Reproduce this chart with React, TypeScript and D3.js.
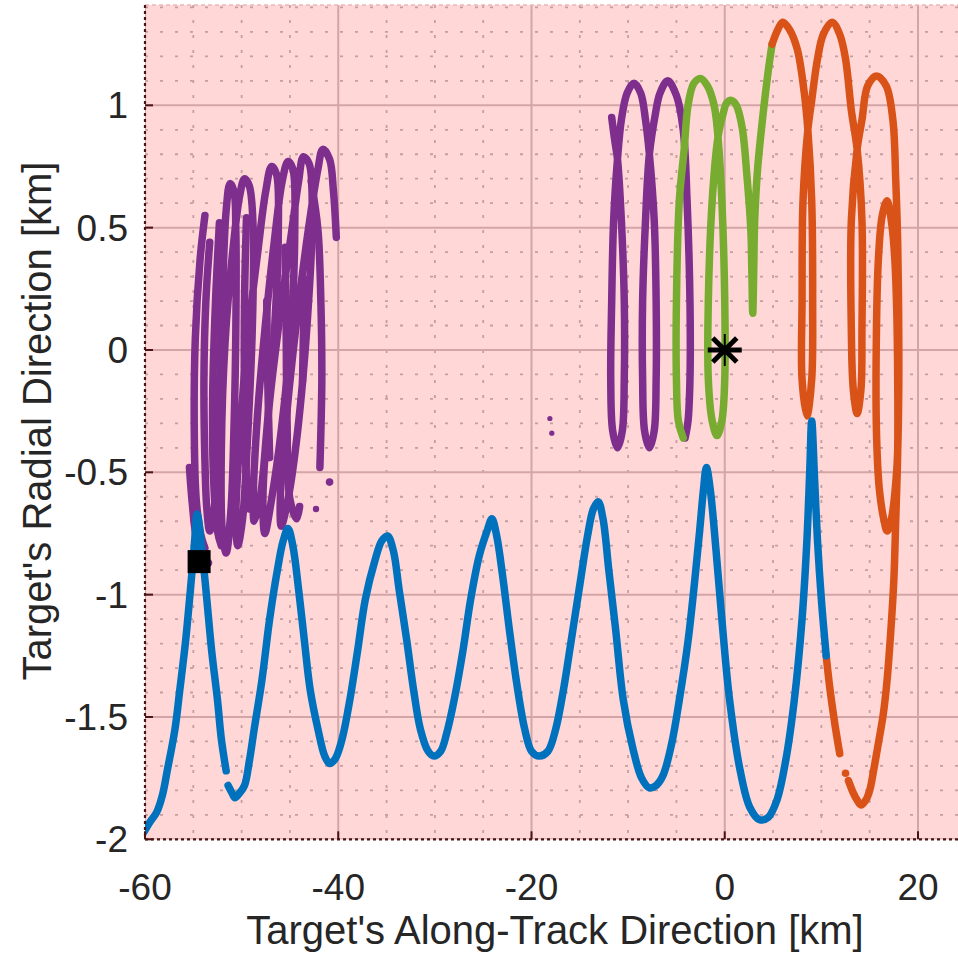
import React from 'react';
import * as d3 from 'd3';

type P = [number, number];

// ---- axes / ticks ----
const X_TICKS = [-60, -40, -20, 0, 20];
const X_TICK_LABELS = ['-60', '-40', '-20', '0', '20'];
const Y_TICKS = [-2, -1.5, -1, -0.5, 0, 0.5, 1];
const Y_TICK_LABELS = ['-2', '-1.5', '-1', '-0.5', '0', '0.5', '1'];
const X_LABEL = "Target's Along-Track Direction [km]";
const Y_LABEL = "Target's Radial Direction [km]";

// ---- blue trajectory (two pieces) ----
const blueA: P[] = [
  [-60.1, -1.97], [-59.5, -1.93], [-58.8, -1.89], [-58.2, -1.82], [-57.7, -1.72], [-56.9, -1.55],
  [-56.4, -1.39], [-55.8, -1.19], [-55.3, -0.98], [-54.9, -0.8], [-54.6, -0.67], [-54.0, -0.86],
  [-53.6, -1.02], [-53.1, -1.23], [-52.5, -1.43], [-52.1, -1.59], [-51.6, -1.72],
];
const blueB: P[] = [
  [-51.4, -1.78], [-51.0, -1.81], [-50.7, -1.83], [-50.2, -1.81], [-49.7, -1.78], [-49.2, -1.68],
  [-48.7, -1.55], [-47.9, -1.35], [-47.1, -1.1], [-46.3, -0.9], [-45.7, -0.78], [-45.2, -0.73],
  [-44.7, -0.8], [-44.1, -0.98], [-43.5, -1.19], [-42.9, -1.39], [-42.1, -1.55], [-41.4, -1.66],
  [-40.9, -1.69], [-40.3, -1.67], [-39.6, -1.59], [-38.8, -1.43], [-38.0, -1.23], [-37.2, -1.02],
  [-36.2, -0.86], [-35.5, -0.78], [-34.9, -0.76], [-34.3, -0.82], [-33.7, -0.98], [-32.9, -1.19],
  [-32.2, -1.39], [-31.5, -1.55], [-30.7, -1.64], [-30.1, -1.66], [-29.4, -1.64], [-28.8, -1.57],
  [-28.0, -1.43], [-27.1, -1.23], [-26.3, -1.02], [-25.4, -0.84], [-24.6, -0.74], [-24.1, -0.69],
  [-23.6, -0.76], [-23.0, -0.92], [-22.3, -1.14], [-21.5, -1.37], [-20.7, -1.55], [-20.0, -1.64],
  [-19.2, -1.66], [-18.3, -1.64], [-17.5, -1.55], [-16.7, -1.39], [-15.9, -1.19], [-15.0, -0.96],
  [-14.2, -0.76], [-13.6, -0.65], [-13.1, -0.62], [-12.6, -0.69], [-12.0, -0.9], [-11.3, -1.14],
  [-10.5, -1.43], [-9.5, -1.63], [-8.6, -1.75], [-7.8, -1.79], [-7.1, -1.78], [-6.4, -1.74],
  [-5.5, -1.61], [-4.7, -1.43], [-3.8, -1.19], [-3.1, -0.94], [-2.6, -0.74], [-2.2, -0.57],
  [-1.9, -0.48], [-1.5, -0.57], [-0.9, -0.82], [-0.3, -1.1], [0.5, -1.43], [1.6, -1.72],
  [2.6, -1.87], [3.6, -1.92], [4.5, -1.91], [5.4, -1.84], [6.3, -1.68], [7.2, -1.43],
  [8.0, -1.1], [8.5, -0.78], [8.8, -0.49], [9.0, -0.29], [9.3, -0.53], [9.6, -0.78],
  [10.0, -1.02], [10.5, -1.25],
];

// ---- orange trajectory ----
const orangeA: P[] = [[10.5, -1.25], [10.9, -1.39], [11.4, -1.53], [11.9, -1.65]];
const orangeDots: P[] = [[12.5, -1.73]];
const orangeB: P[] = [
  [12.8, -1.76], [13.3, -1.81], [13.7, -1.84], [14.1, -1.86], [14.6, -1.84], [15.0, -1.8],
  [15.4, -1.72], [15.8, -1.63], [16.4, -1.49], [16.8, -1.35], [17.2, -1.14], [17.5, -0.94],
  [17.7, -0.69], [17.9, -0.41], [17.9, -0.12], [17.8, 0.16], [17.6, 0.37], [17.3, 0.51],
  [16.8, 0.61], [16.3, 0.55], [15.9, 0.37], [15.7, 0.08], [15.7, -0.33], [16.0, -0.57],
  [16.5, -0.7], [16.8, -0.74], [17.2, -0.7], [17.8, -0.49], [18.0, -0.2], [18.0, 0.12],
  [17.9, 0.44], [17.7, 0.69], [17.4, 0.94], [16.7, 1.08], [15.7, 1.12], [14.8, 1.08],
  [14.2, 0.94], [13.7, 0.82], [13.1, 0.53], [13.1, 0.08], [13.3, -0.16], [13.7, -0.26],
  [14.1, -0.16], [14.2, 0.08], [14.2, 0.53], [13.7, 0.82], [13.1, 0.98], [12.5, 1.19],
  [11.9, 1.29], [11.1, 1.34], [10.2, 1.29], [9.6, 1.19], [9.0, 1.02], [8.6, 0.9],
  [8.1, 0.61], [8.0, 0.2], [8.0, -0.12], [8.5, -0.27], [9.0, -0.12], [9.1, 0.2],
  [9.0, 0.61], [8.6, 0.9], [8.2, 1.06], [7.5, 1.23], [6.7, 1.31], [6.0, 1.34],
  [5.5, 1.31], [4.9, 1.25],
];

// ---- green trajectory ----
const green: P[] = [
  [4.9, 1.25], [4.5, 1.14], [3.9, 0.94], [3.4, 0.74], [3.1, 0.53], [3.0, 0.33], [2.9, 0.15],
  [2.8, 0.33], [2.7, 0.49], [2.3, 0.71], [1.8, 0.91], [1.2, 1.0], [0.7, 1.02], [0.2, 1.01],
  [-0.2, 0.96], [-0.7, 0.87], [-1.3, 0.61], [-1.7, 0.2], [-1.7, -0.12], [-1.3, -0.29],
  [-0.8, -0.35], [-0.3, -0.29], [0.0, -0.12], [0.0, 0.2], [-0.3, 0.61], [-0.7, 0.87],
  [-1.1, 1.0], [-1.8, 1.08], [-2.5, 1.11], [-3.2, 1.09], [-3.8, 1.0], [-4.2, 0.82],
  [-4.7, 0.61], [-5.0, 0.2], [-5.0, -0.12], [-4.8, -0.29], [-4.3, -0.36],
];

// ---- purple trajectory: right group ----
const purpleRight: P[] = [
  [-11.7, 0.95], [-11.4, 0.86], [-11.1, 0.78], [-10.7, 0.53], [-10.4, 0.2], [-10.4, -0.12],
  [-10.6, -0.33], [-11.1, -0.4], [-11.6, -0.33], [-11.8, -0.12], [-11.7, 0.2], [-11.5, 0.53],
  [-11.1, 0.78], [-10.7, 0.94], [-10.1, 1.05], [-9.4, 1.09], [-8.7, 1.05], [-8.2, 0.94],
  [-7.8, 0.8], [-7.3, 0.53], [-7.1, 0.2], [-7.1, -0.12], [-7.3, -0.33], [-7.8, -0.4],
  [-8.3, -0.33], [-8.5, -0.12], [-8.5, 0.2], [-8.2, 0.53], [-7.8, 0.8], [-7.2, 0.96],
  [-6.7, 1.05], [-5.9, 1.1], [-5.0, 1.04], [-4.3, 0.9], [-3.9, 0.61], [-3.6, 0.2],
  [-3.6, -0.12], [-3.8, -0.29], [-4.1, -0.36],
];

// ---- purple trajectory: left tangle ----
const purpleLeftMain: P[] = [
  [-53.3, 0.44], [-53.7, 0.2], [-53.9, -0.12], [-53.8, -0.45], [-53.6, -0.65], [-53.3, -0.74],
  [-52.9, -0.67], [-52.5, -0.41], [-52.2, -0.04], [-51.9, 0.33], [-51.6, 0.57], [-51.2, 0.68],
  [-50.8, 0.65], [-50.6, 0.49], [-50.6, 0.08], [-50.8, -0.33], [-51.1, -0.65], [-51.6, -0.83],
  [-52.0, -0.74], [-52.1, -0.41], [-51.7, 0.04], [-50.9, 0.41], [-50.2, 0.63], [-49.7, 0.7],
  [-49.2, 0.67], [-48.8, 0.49], [-48.9, 0.08], [-49.4, -0.37], [-49.9, -0.69], [-50.4, -0.8],
  [-50.6, -0.69], [-50.2, -0.37], [-49.4, 0.04], [-48.3, 0.41], [-47.5, 0.65], [-46.9, 0.75],
  [-46.4, 0.72], [-46.2, 0.49], [-46.6, 0.08], [-47.4, -0.33], [-48.1, -0.61], [-48.7, -0.7],
  [-48.8, -0.61], [-48.4, -0.29], [-47.6, 0.08], [-46.6, 0.45], [-45.8, 0.69], [-45.2, 0.77],
  [-44.7, 0.74], [-44.5, 0.49], [-44.9, 0.08], [-45.9, -0.33], [-46.9, -0.61], [-47.6, -0.75],
  [-47.8, -0.63], [-47.3, -0.29], [-46.1, 0.12], [-44.8, 0.49], [-44.1, 0.69], [-43.6, 0.79],
  [-43.0, 0.76], [-42.7, 0.53], [-43.2, 0.12], [-44.2, -0.33], [-45.2, -0.61], [-45.9, -0.72],
  [-46.0, -0.61], [-45.3, -0.25], [-44.3, 0.12], [-43.1, 0.49], [-42.1, 0.74], [-41.6, 0.82],
  [-40.9, 0.78], [-40.5, 0.65], [-40.2, 0.46],
];
const purpleLeftE1: P[] = [[-53.8, 0.55], [-54.3, 0.37], [-54.8, 0.04], [-54.9, -0.33], [-54.7, -0.61], [-54.2, -0.76], [-53.8, -0.81]];
const purpleLeftE2: P[] = [[-55.4, -0.48], [-55.1, -0.63], [-54.7, -0.76], [-54.0, -0.83]];
const purpleLeftE3: P[] = [[-52.3, 0.52], [-52.7, 0.2], [-53.0, -0.2], [-52.9, -0.53], [-52.5, -0.74], [-52.1, -0.8]];
const purpleLeftE4: P[] = [[-49.5, 0.54], [-49.7, 0.2], [-49.7, -0.2], [-49.5, -0.53], [-49.2, -0.65]];
const purpleLeftE5: P[] = [[-45.5, 0.42], [-45.4, 0.12], [-45.3, -0.29], [-45.0, -0.61], [-44.3, -0.69], [-44.0, -0.64]];
const purpleLeftE6: P[] = [[-41.9, -0.48], [-41.7, -0.12], [-41.8, 0.2], [-42.1, 0.49], [-42.8, 0.69]];
const purpleLeftE7: P[] = [[-43.7, -0.13], [-43.6, 0.08], [-43.5, 0.29]];
const purpleLeftE8: P[] = [[-47.1, -0.44], [-47.3, -0.12], [-47.4, 0.2]];
const purpleDots: P[] = [[-53.5, -0.87], [-40.9, -0.54], [-42.3, -0.65], [-18.1, -0.28], [-17.9, -0.34]];
const purpleDotSizes = [4.5, 3.8, 3.2, 2.6, 2.6];

// ---- markers ----
const startMarker: P = [-54.4, -0.865];
const targetMarker: P = [0, 0];

const BLUE = '#0072BD';
const ORANGE = '#D95319';
const GREEN = '#77AC30';
const PURPLE = '#7E2F8E';

export default function App() {
  const W = 958;
  const H = 954;
  const left = 145;
  const bottom = 839.3;
  const top = 5;
  const x = d3.scaleLinear().domain([-60, 25]).range([left, left + 85 * 9.6625]);
  const y = d3.scaleLinear().domain([-2, 1.41]).range([bottom, top]);
  const right = W;

  const line = d3
    .line<P>()
    .x((d) => x(d[0]))
    .y((d) => y(d[1]))
    .curve(d3.curveCatmullRom.alpha(0.5));

  const xMinor = d3.range(-60, 25.001, 5).filter((v) => !X_TICKS.includes(v));
  const yMinor = d3.range(-20, 14.5, 1).map((v) => v / 10).filter((v) => !Y_TICKS.includes(v));

  const gridMajor = '#d3a5a7';
  const gridMinor = '#c49ea0';
  const axisCol = '#4a1414';
  const font = "Arial, 'Liberation Sans', Helvetica, sans-serif";

  const purpleLeft = [
    purpleLeftMain, purpleLeftE1, purpleLeftE2, purpleLeftE3, purpleLeftE4,
    purpleLeftE5, purpleLeftE6, purpleLeftE7, purpleLeftE8,
  ];

  const sw = 7.5;
  const strokeProps = {
    fill: 'none',
    strokeWidth: sw,
    strokeLinecap: 'round' as const,
    strokeLinejoin: 'round' as const,
  };

  const tx = x(targetMarker[0]);
  const ty = y(targetMarker[1]);
  const tickFont = 37;
  const labelFont = 40;

  return (
    <svg
      width={W}
      height={H}
      style={{ position: 'absolute', left: 0, top: 0, background: '#ffffff' }}
      fontFamily={font}
    >
      <defs>
        <clipPath id="plotclip">
          <rect x={left} y={top} width={right - left} height={bottom - top} />
        </clipPath>
      </defs>
      <rect x={left} y={top} width={right - left} height={bottom - top} fill="#ffd7d7" />

      {/* minor grid */}
      <g clipPath="url(#plotclip)">
        {xMinor.map((v) => (
          <line key={'xm' + v} x1={x(v)} x2={x(v)} y1={top} y2={bottom}
            stroke={gridMinor} strokeWidth={1.8} strokeDasharray="3 12" />
        ))}
        {yMinor.map((v) => (
          <line key={'ym' + v} x1={left} x2={right} y1={y(v)} y2={y(v)}
            stroke={gridMinor} strokeWidth={1.8} strokeDasharray="3 12" />
        ))}
        {X_TICKS.map((v) => (
          <line key={'xg' + v} x1={x(v)} x2={x(v)} y1={top} y2={bottom} stroke={gridMajor} strokeWidth={2} />
        ))}
        {Y_TICKS.map((v) => (
          <line key={'yg' + v} x1={left} x2={right} y1={y(v)} y2={y(v)} stroke={gridMajor} strokeWidth={2} />
        ))}
      </g>

      {/* data */}
      <g clipPath="url(#plotclip)">
        {purpleLeft.map((d, i) => (
          <path key={'pl' + i} d={line(d) || ''} stroke={PURPLE} {...strokeProps} />
        ))}
        <path d={line(purpleRight) || ''} stroke={PURPLE} {...strokeProps} />
        {purpleDots.map((d, i) => (
          <circle key={'pd' + i} cx={x(d[0])} cy={y(d[1])} r={purpleDotSizes[i]} fill={PURPLE} />
        ))}
        <path d={line(green) || ''} stroke={GREEN} {...strokeProps} />
        <path d={line(orangeB) || ''} stroke={ORANGE} {...strokeProps} />
        <path d={line(orangeA) || ''} stroke={ORANGE} {...strokeProps} />
        {orangeDots.map((d, i) => (
          <circle key={'od' + i} cx={x(d[0])} cy={y(d[1])} r={3.8} fill={ORANGE} />
        ))}
        <path d={line(blueA) || ''} stroke={BLUE} {...strokeProps} />
        <path d={line(blueB) || ''} stroke={BLUE} {...strokeProps} />

        {/* start marker: square */}
        <rect x={x(startMarker[0]) - 11.5} y={y(startMarker[1]) - 11.5} width={23} height={23} fill="#000" />
        {/* target marker: asterisk */}
        <g stroke="#000" strokeLinecap="butt">
          <line x1={tx - 17} x2={tx + 17} y1={ty} y2={ty} strokeWidth={5} />
          <line x1={tx - 12} x2={tx + 12} y1={ty - 12} y2={ty + 12} strokeWidth={5} />
          <line x1={tx - 12} x2={tx + 12} y1={ty + 12} y2={ty - 12} strokeWidth={5} />
          <line x1={tx} x2={tx} y1={ty - 16} y2={ty + 16} strokeWidth={2} />
        </g>
      </g>

      {/* axes box */}
      <line x1={left} x2={right} y1={top} y2={top} stroke="#f0b4b6" strokeWidth={1.5} strokeDasharray="4 3" />
      <line x1={left} x2={left} y1={top} y2={bottom} stroke={axisCol} strokeWidth={2.2} strokeDasharray="3 3" />
      <line x1={left} x2={right} y1={bottom} y2={bottom} stroke={axisCol} strokeWidth={2.2} strokeDasharray="3 3" />

      {/* ticks */}
      {X_TICKS.map((v) => (
        <line key={'xt' + v} x1={x(v)} x2={x(v)} y1={bottom} y2={bottom - 8} stroke={axisCol} strokeWidth={2} />
      ))}
      {Y_TICKS.map((v) => (
        <line key={'yt' + v} x1={left} x2={left + 8} y1={y(v)} y2={y(v)} stroke={axisCol} strokeWidth={2} />
      ))}

      {/* tick labels */}
      {X_TICKS.map((v, i) => (
        <text key={'xl' + v} x={x(v)} y={900} textAnchor="middle" fontSize={tickFont} fill="#262626">
          {X_TICK_LABELS[i]}
        </text>
      ))}
      {Y_TICKS.map((v, i) => (
        <text key={'yl' + v} x={128} y={y(v) + 13} textAnchor="end" fontSize={tickFont} fill="#262626">
          {Y_TICK_LABELS[i]}
        </text>
      ))}

      {/* axis labels */}
      <text x={555} y={944} textAnchor="middle" fontSize={labelFont} fill="#262626">
        {X_LABEL}
      </text>
      <text
        transform={`translate(51, 421) rotate(-90)`}
        textAnchor="middle"
        fontSize={labelFont}
        fill="#262626"
      >
        {Y_LABEL}
      </text>
    </svg>
  );
}
